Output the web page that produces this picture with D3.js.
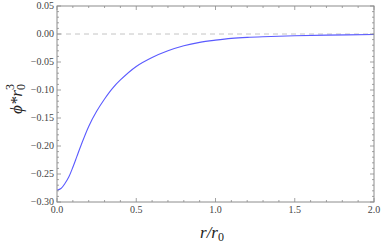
<!DOCTYPE html>
<html>
<head>
<meta charset="utf-8">
<script src="https://cdn.jsdelivr.net/npm/d3@7"></script>
</head>
<body style="margin:0;background:#fff">
<div id="chart"></div>
<script>
// potential profile phi * r0^3 against r / r0
const rValues = [0, 0.025, 0.05, 0.075, 0.1, 0.125, 0.15, 0.2, 0.25, 0.3, 0.35, 0.4, 0.5, 0.6, 0.7, 0.8, 0.9, 1.0, 1.1, 1.2, 1.35, 1.5, 1.7, 2.0];
const phiValues = [-0.279, -0.276, -0.267, -0.255, -0.238, -0.219, -0.200, -0.165, -0.138, -0.116, -0.097, -0.082, -0.058, -0.042, -0.030, -0.021, -0.015, -0.011, -0.0078, -0.006, -0.0045, -0.003, -0.002, -0.001];
const xTicks = [0, 0.5, 1.0, 1.5, 2.0];
const yTicks = [0.05, 0, -0.05, -0.1, -0.15, -0.2, -0.25, -0.3];

const W = 382, H = 244;
const margin = { top: 6, right: 8, bottom: 42, left: 57 };
const width = W - margin.left - margin.right,
  height = H - margin.top - margin.bottom;
const serif = '"Liberation Serif"';

const svg = d3.select("#chart").append("svg")
  .attr("width", W).attr("height", H)
  .style("display", "block");
const g = svg.append("g")
  .attr("transform", `translate(${margin.left},${margin.top})`);

const x = d3.scaleLinear().domain([0, 2]).range([0, width]);
const y = d3.scaleLinear().domain([-0.3, 0.05]).range([height, 0]);

const frameColor = "#8c8c8c";

// zero reference line
g.append("line")
  .attr("x1", 0).attr("x2", width)
  .attr("y1", y(0)).attr("y2", y(0))
  .attr("stroke", "#c4c4c4").attr("stroke-width", 1)
  .attr("stroke-dasharray", "5,4");

// curve
const line = d3.line()
  .x((d, i) => x(rValues[i]))
  .y(d => y(d))
  .curve(d3.curveCatmullRom.alpha(0.5));

g.append("path")
  .datum(phiValues)
  .attr("fill", "none")
  .attr("stroke", "#5a5aff")
  .attr("stroke-width", 1.1)
  .attr("d", line);

// frame
g.append("rect")
  .attr("x", 0).attr("y", 0)
  .attr("width", width).attr("height", height)
  .attr("fill", "none")
  .attr("stroke", frameColor).attr("stroke-width", 1);

// inward ticks on all four sides
const xMinor = d3.range(0, 2.0001, 0.1);
const yMinor = d3.range(-0.3, 0.0501, 0.01);
const isMajorX = v => Math.abs(v * 2 - Math.round(v * 2)) < 1e-6;
const isMajorY = v => Math.abs(v * 20 - Math.round(v * 20)) < 1e-6;

const ticks = g.append("g").attr("stroke", frameColor).attr("stroke-width", 0.8);
xMinor.forEach(v => {
  const len = isMajorX(v) ? 4 : 2;
  ticks.append("line").attr("x1", x(v)).attr("x2", x(v)).attr("y1", height).attr("y2", height - len);
  ticks.append("line").attr("x1", x(v)).attr("x2", x(v)).attr("y1", 0).attr("y2", len);
});
yMinor.forEach(v => {
  const len = isMajorY(v) ? 4 : 2;
  ticks.append("line").attr("x1", 0).attr("x2", len).attr("y1", y(v)).attr("y2", y(v));
  ticks.append("line").attr("x1", width).attr("x2", width - len).attr("y1", y(v)).attr("y2", y(v));
});

// tick labels
g.selectAll(".xlab").data(xTicks).enter().append("text")
  .attr("class", "xlab")
  .attr("x", d => x(d)).attr("y", height + 11)
  .attr("text-anchor", "middle")
  .style("font-family", serif).style("font-size", "10px").style("fill", "#444")
  .text(d => d3.format(".1f")(d));

g.selectAll(".ylab").data(yTicks).enter().append("text")
  .attr("class", "ylab")
  .attr("x", -3).attr("y", d => y(d) + 3.4)
  .attr("text-anchor", "end")
  .style("font-family", serif).style("font-size", "10px").style("fill", "#444")
  .text(d => (d < 0 ? "\u2212" : "") + d3.format(".2f")(Math.abs(d)));

// axis titles
const xt = svg.append("text")
  .attr("x", 212).attr("y", 238)
  .attr("text-anchor", "middle")
  .style("font-family", serif).style("font-style", "italic")
  .style("font-size", "17px").style("fill", "#222");
xt.append("tspan").text("r/r");
xt.append("tspan").attr("dy", 3).style("font-size", "12px").style("font-style", "normal").text("0");

const yt = svg.append("text")
  .attr("transform", "translate(22,99) rotate(-90)")
  .attr("text-anchor", "middle")
  .style("font-family", serif).style("font-style", "italic")
  .style("font-size", "17px").style("fill", "#222");
yt.append("tspan").text("\u03d5*r");
yt.append("tspan").attr("dy", 3).style("font-size", "12px").style("font-style", "normal").text("0");
yt.append("tspan").attr("dy", -11).attr("dx", -6).style("font-size", "12px").style("font-style", "normal").text("3");
</script>
</body>
</html>
